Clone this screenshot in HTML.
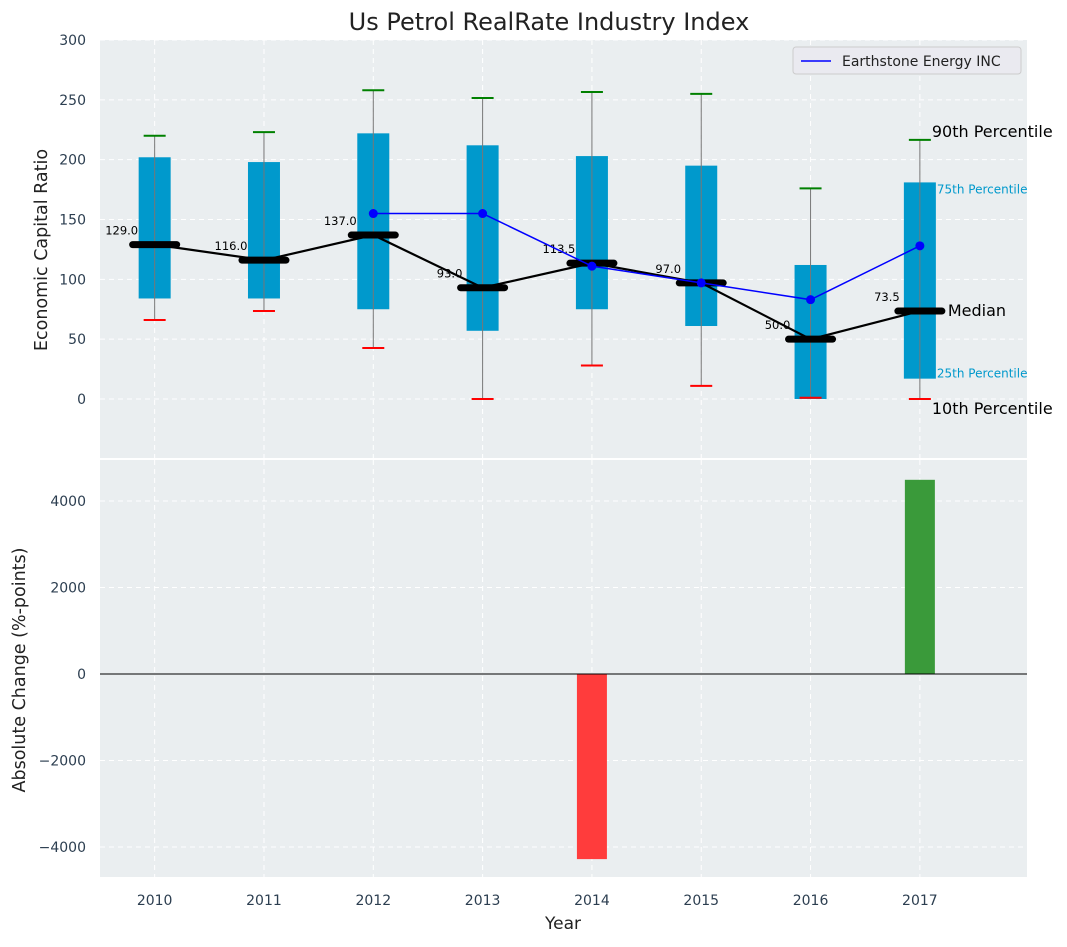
<!DOCTYPE html>
<html><head><meta charset="utf-8"><style>
body{margin:0;background:#fff;}
svg{font-family:"DejaVu Sans","Liberation Sans",sans-serif;}
</style></head><body>
<svg id="c" width="1067" height="942" xmlns="http://www.w3.org/2000/svg"></svg>
<script>
const years=[2010,2011,2012,2013,2014,2015,2016,2017];
const p10=[66,73.5,42.6,0,28,11,1,0];
const p25=[84,84,75,57,75,61,0,17];
const medians=[129,116,137,93,113.5,97,50,73.5];
const p75=[202,198,222,212,203,195,112,181];
const p90=[220,223,258,251.5,256.5,255,176,216.5];
const companyYears=[2012,2013,2014,2015,2016,2017];
const companyVals=[155,155,111,97,83,128];
const changeVals=[0,0,0,0,-4280,0,0,4490];
const topTicks=[0,50,100,150,200,250,300];
const botTicks=[-4000,-2000,0,2000,4000];

const NS="http://www.w3.org/2000/svg";
const svg=document.getElementById('c');
function el(t,a,txt){const e=document.createElementNS(NS,t);for(const k in a)e.setAttribute(k,a[k]);if(txt!==undefined)e.textContent=txt;svg.appendChild(e);return e;}
const L=100,R=1027;
const x=v=>L+(v-2009.5)*(R-L)/(2017.98-2009.5);
const yT=v=>399-v*(359/300);
const yB=v=>674-v*(173/4000);

let e=el('rect',{x:L,y:40,width:R-L,height:418,fill:'#eaeef0'});


e=el('rect',{x:L,y:460,width:R-L,height:417,fill:'#eaeef0'});



topTicks.forEach(t=>{el('line',{x1:L,x2:R,y1:yT(t),y2:yT(t),stroke:'#fff','stroke-dasharray':'5,4'});
 e=el('text',{x:L-14,y:yT(t)+5,'text-anchor':'end','font-size':14,fill:'#2c3e50'},t);
 
 });
botTicks.forEach(t=>{el('line',{x1:L,x2:R,y1:yB(t),y2:yB(t),stroke:'#fff','stroke-dasharray':'5,4'});
 e=el('text',{x:L-14,y:yB(t)+5,'text-anchor':'end','font-size':14,fill:'#2c3e50'},t<0?'\u2212'+(-t):t);
 
 });
years.forEach(yr=>{
 el('line',{x1:x(yr),x2:x(yr),y1:40,y2:458,stroke:'#fff','stroke-dasharray':'5,4'});
 el('line',{x1:x(yr),x2:x(yr),y1:460,y2:877,stroke:'#fff','stroke-dasharray':'5,4'});
 e=el('text',{x:x(yr),y:905,'text-anchor':'middle','font-size':14,fill:'#2c3e50'},yr);
 
 
});

years.forEach((yr,i)=>{
 const cx=x(yr);
 e=el('rect',{x:cx-16,y:yT(p75[i]),width:32,height:yT(p25[i])-yT(p75[i]),fill:'#0099cc'});
 
 
 el('line',{x1:cx,x2:cx,y1:yT(p90[i]),y2:yT(p10[i]),stroke:'#777','stroke-width':1});
 e=el('line',{x1:cx-11,x2:cx+11,y1:yT(p90[i]),y2:yT(p90[i]),stroke:'green','stroke-width':2});
 
 
 e=el('line',{x1:cx-11,x2:cx+11,y1:yT(p10[i]),y2:yT(p10[i]),stroke:'red','stroke-width':2});
 
 
});
let d=years.map((yr,i)=>(i?'L':'M')+x(yr)+','+yT(medians[i])).join('');
e=el('path',{d:d,fill:'none',stroke:'#000','stroke-width':2.2});


years.forEach((yr,i)=>{
 e=el('line',{x1:x(yr)-22,x2:x(yr)+22,y1:yT(medians[i]),y2:yT(medians[i]),stroke:'#000','stroke-width':7,'stroke-linecap':'round'});
 
 
 e=el('text',{x:x(yr)-33,y:yT(medians[i])-10,'text-anchor':'middle','font-size':11.5,fill:'#000'},medians[i].toFixed(1));
 
 
});
d=companyYears.map((yr,i)=>(i?'L':'M')+x(yr)+','+yT(companyVals[i])).join('');
e=el('path',{d:d,fill:'none',stroke:'#0000ff','stroke-width':1.5});


companyYears.forEach((yr,i)=>{
 e=el('circle',{cx:x(yr),cy:yT(companyVals[i]),r:4.5,fill:'#0000ff'});
 
 
});
const last=years.length-1, lx=x(years[last]);
[[p90[last],'90th Percentile',16,'#000',lx+12,-8],[p75[last],'75th Percentile',12,'#0099cc',lx+17,6],[medians[last],'Median',16,'#000',lx+28,0],[p25[last],'25th Percentile',12,'#0099cc',lx+17,-6],[p10[last],'10th Percentile',16,'#000',lx+12,10]].forEach(a=>{
 e=el('text',{x:a[4],y:yT(a[0])+a[5]+5,'font-size':a[2],fill:a[3]},a[1]);
 
 
});
e=el('rect',{x:793,y:47,width:228,height:27,rx:3,fill:'#eaeaf0',stroke:'#ccc'});


el('line',{x1:801,x2:831,y1:61,y2:61,stroke:'#0000ff','stroke-width':1.5});
e=el('text',{x:842,y:66,'font-size':14,fill:'#222'},'Earthstone Energy INC');



years.forEach((yr,i)=>{
 const v=changeVals[i]; if(!v)return;
 e=el('rect',{x:x(yr)-15,y:Math.min(yB(v),yB(0)),width:30,height:Math.abs(yB(v)-yB(0)),fill:v<0?'#ff3c3c':'#3a9a3a'});
 
 
});
el('line',{x1:L,x2:R,y1:yB(0),y2:yB(0),stroke:'#000','stroke-width':1});

e=el('text',{x:549,y:30,'text-anchor':'middle','font-size':24,fill:'#222'},'Us Petrol RealRate Industry Index');


e=el('text',{x:563,y:929,'text-anchor':'middle','font-size':17,fill:'#222'},'Year');


e=el('text',{x:47,y:250,'text-anchor':'middle','font-size':17.5,fill:'#222',transform:'rotate(-90 47 250)'},'Economic Capital Ratio');


e=el('text',{x:25,y:670,'text-anchor':'middle','font-size':17.5,fill:'#222',transform:'rotate(-90 25 670)'},'Absolute Change (%-points)');


</script>
</body></html>
